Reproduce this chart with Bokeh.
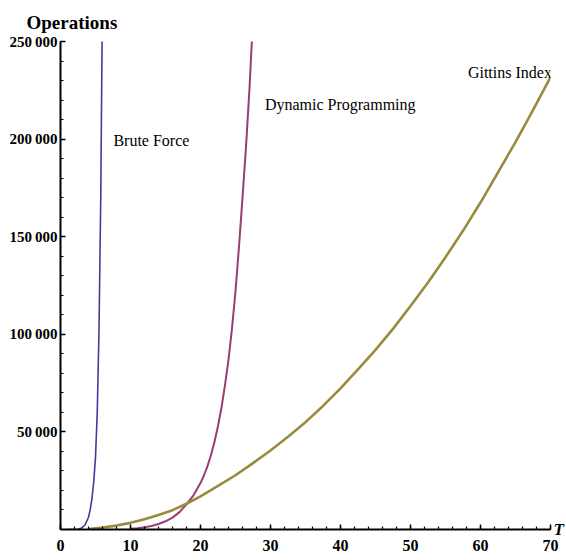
from bokeh.plotting import figure
from bokeh.models import Range1d, FixedTicker, Label, LinearAxis
from bokeh.embed import file_html
from bokeh.resources import INLINE

# ---- data ----
bf_T = [1, 2, 2.5, 3, 3.5, 4, 4.25, 4.5, 4.75, 5, 5.25, 5.5, 5.75, 6.0]
bf_ops = [0, 20, 150, 700, 2300, 6300, 10300, 16000, 24500, 37000, 60000, 102000, 170000, 275000]

dp_T = [10, 11, 12, 13, 14, 15, 16, 17, 18, 19, 20, 20.5, 21, 21.5, 22, 22.5, 23, 23.5,
        24, 24.5, 25, 25.5, 26, 26.5, 27, 27.5]
dp_ops = [350, 650, 1100, 1800, 2800, 4200, 6100, 8900, 12900, 17500, 23800, 27800, 32500, 38200,
          45000, 53000, 62500, 74000, 87000, 103000, 122000, 145000, 170000, 196000, 226000, 262000]

gi_T = [4, 6, 8, 10, 12, 14, 16, 18, 20, 22.5, 25, 27.5, 30, 32.5, 35, 37.5, 40, 42.5, 45,
        47.5, 50, 52.5, 55, 57.5, 60, 62.5, 65, 67.5, 70]
gi_ops = [200, 1000, 2000, 3400, 5200, 7400, 9900, 13200, 17000, 22300, 27800, 34000, 40500,
          47500, 55000, 63300, 72300, 82000, 92000, 102800, 114500, 126500, 139500, 153000,
          167500, 183000, 198500, 214800, 231700]

x_ticks = [0, 10, 20, 30, 40, 50, 60, 70]
y_ticks = [50000, 100000, 150000, 200000, 250000]
y_tick_labels = ["50\u2009000", "100\u2009000", "150\u2009000", "200\u2009000", "250\u2009000"]

series_names = ["Brute Force", "Dynamic Programming", "Gittins Index"]
colors = ["#3d3d99", "#993d71", "#998b3d"]

FONT = "Liberation Serif"

p = figure(width=566, height=560, output_backend="svg", toolbar_location=None,
           x_range=Range1d(0, 70), y_range=Range1d(0, 250000),
           min_border_left=60, min_border_right=15, min_border_top=41, min_border_bottom=31)
p.outline_line_color = None
p.xgrid.visible = False
p.ygrid.visible = False
p.background_fill_color = "white"
p.border_fill_color = "white"

p.line(bf_T, bf_ops, line_color=colors[0], line_width=1.6)
p.line(dp_T, dp_ops, line_color=colors[1], line_width=2.0)
p.line(gi_T, gi_ops, line_color=colors[2], line_width=2.6)

# axes styling (Mathematica-like)
for ax in (p.xaxis[0], p.yaxis[0]):
    ax.axis_line_width = 2
    ax.axis_line_color = "black"
    ax.major_tick_in = 5
    ax.major_tick_out = 0
    ax.minor_tick_in = 3
    ax.minor_tick_out = 0
    ax.major_tick_line_width = 1.5
    ax.minor_tick_line_width = 1.2
    ax.major_label_text_font = FONT
    ax.major_label_text_font_style = "bold"
    ax.major_label_text_color = "black"

p.xaxis.major_label_text_font_size = "16px"
p.yaxis.major_label_text_font_size = "15px"
p.xaxis.ticker = FixedTicker(ticks=x_ticks, minor_ticks=[t for t in range(0, 71, 2)])
p.yaxis.ticker = FixedTicker(ticks=y_ticks, minor_ticks=list(range(0, 250001, 10000)))
p.yaxis.major_label_overrides = {t: s for t, s in zip(y_ticks, y_tick_labels)}
p.xaxis.major_label_standoff = 10
p.yaxis.major_label_standoff = 3

# "T" axis name at the right end of the horizontal axis
t_axis = LinearAxis(ticker=FixedTicker(ticks=[0]), major_label_overrides={0: "T"},
                    axis_line_color=None, major_tick_line_color=None, minor_tick_line_color=None,
                    major_tick_in=0, major_tick_out=0, minor_tick_in=0, minor_tick_out=0,
                    major_label_standoff=3, axis_label_standoff=0, major_label_text_font=FONT,
                    major_label_text_font_size="17px", major_label_text_font_style="bold italic",
                    major_label_text_color="black")
p.add_layout(t_axis, "right")

# "Operations" axis name above the vertical axis
p.title.text = "Operations"
p.title.align = "left"
p.title.vertical_align = "bottom"
p.title.offset = -34
p.title.text_font = FONT
p.title.text_font_size = "19px"
p.title.text_font_style = "bold"
p.title.text_color = "black"
p.title.standoff = 17

# curve labels
label_pos = [(7.56, 199300), (29.2, 217700), (58.2, 234100)]
for name, (lx, ly) in zip(series_names, label_pos):
    p.add_layout(Label(x=lx, y=ly, text=name, text_font=FONT, text_font_size="16px",
                       text_baseline="middle", text_align="left", text_color="black"))

open("out.html", "w").write(file_html(p, INLINE))
